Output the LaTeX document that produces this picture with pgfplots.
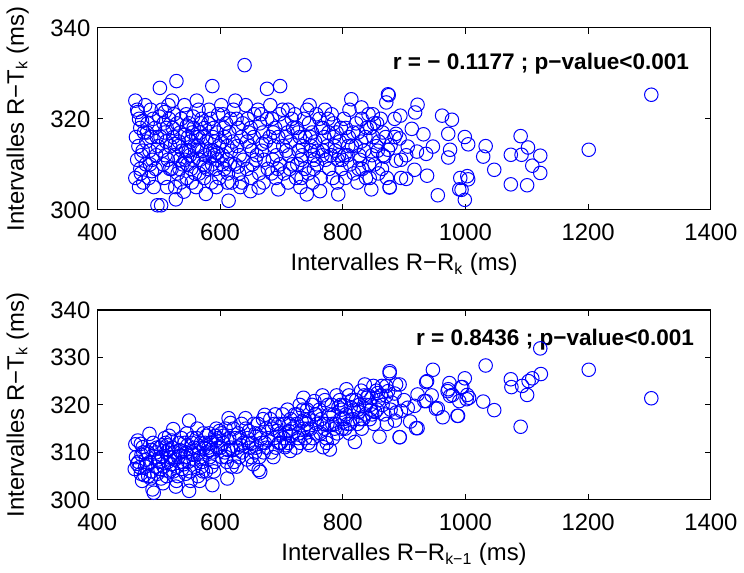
\documentclass[border=0pt]{standalone}
\usepackage{pgfplots}
\pgfplotsset{compat=1.18}
\usepackage{fontspec}
\setmainfont{Liberation Sans}
\definecolor{mblue}{RGB}{0,0,255}
\begin{document}
\begin{tikzpicture}
\pgfplotsset{
  mstyle/.style={
    scale only axis, width=308.5pt,
    xmin=400, xmax=1400, xtick={400,600,...,1400},
    tick align=inside, major tick length=3pt,
    axis line style={line width=0.6pt}, every tick/.style={line width=0.5pt, black},
    tick label style={font=\fontsize{12}{14}\selectfont},
    label style={font=\fontsize{12}{14}\selectfont},
    /pgf/number format/assume math mode=true,
    /pgf/number format/1000 sep={},
    xticklabel style={yshift=-3.5pt},
    clip=false,
    xlabel style={yshift=0.5pt},
    ylabel style={yshift=4pt},
  },
  pts/.style={only marks, mark=o, mark size=3.4pt, color=mblue, mark options={line width=0.5pt}},
}
% ---------------- bottom ----------------
\begin{axis}[mstyle, at={(0,0)}, anchor=south west, height=95.5pt,
  ymin=300, ymax=340, ytick={300,310,...,340},
  xlabel={Intervalles R\textminus R\textsubscript{k\textminus1} (ms)},
  ylabel={Intervalles R\textminus T\textsubscript{k} (ms)}]
\addplot[pts] coordinates {
(462,311.7)(465,307.6)(469,306.9)(471,305.5)(471,311.8)(474,311.1)(476.7,305.2)(463,309)(467,308)(472,309.5)(478,307)(475,310)(461,306.5)(479,308.5)(466,312.5)(473,304)
(485,313.9)(490,302.2)(492,301.5)(482,310)(486,308)(489,306)(494,309)(497,311)(483,305)(488,310.5)(495,307)(499,308.5)(491,312)(487,304.5)(498,305.5)
(502,311)(505,309)(508,307)(510,313)(512,310)(515,308)(518,306)(504,304.5)(511,312)(516,310.5)(507,303.5)(519,309)(513,305)(501,308)(517,313.5)(506,311.5)
(523.7,314.9)(528,302.8)(522,311)(525,309)(530,307)(533,312)(536,310)(539,308)(524,306)(531,305)(537,313)(527,308.5)(534,310.5)(529,304)(521,312.5)(538,306.5)(526,310)
(549.6,316.7)(549.6,301.9)(542,312)(545,310)(548,308)(551,306)(555,313)(558,311)(543,309)(552,304)(557,308.5)(546,314)(553,310)(559,307)(544,305.5)(554,312)(547,311.5)
(562,313)(565,311)(568,309)(570,307)(573,314)(576,312)(579,310)(564,305)(571,308)(577,306)(563,315)(574,311)(567,304)(578,313.5)(569,312)
(587.5,303.1)(582,314)(585,312)(588,310)(591,308)(594,315)(597,313)(583,309)(590,306)(596,311)(599,314.5)(586,307)(593,312.5)(581,311)
(614,317.2)(617,316.2)(612,304.5)(602,314)(605,312)(608,310)(611,308)(615,313)(618,311)(603,309)(609,315)(619,307)(606,313.5)(613,310.5)
(622,315)(625,313)(628,311)(631,309)(635,316)(638,312)(623,308)(630,314)(636,310)(627,307)(633,313)
(641.5,317.2)(642,315)(645,313)(648,311)(651,309)(655,316)(658,314)(644,308.5)(652,312)(657,310)(647,314.5)(654,307.5)
(663,306.3)(665.6,305.9)(672.8,317.9)(662,316)(665,314)(668,312)(671,310)(675,315)(678,313)(664,309)(670,317)(676,311)(667,313)
(682,317)(685,315)(688,313)(691,311)(695,316)(698,314)(684,310)(690,318)(696,312)(687,309)(693,314.5)
(706,311.1)(714.4,310.3)(702,318)(705,316)(708,314)(711,312)(715,317)(718,315)(704,313)(710,319)(716,313.5)(707,311.5)(713,316)
(722,318)(725,316)(728,314)(731,312)(735,319)(738,317)(724,311)(730,320)(736,315)(727,313)(733,316.5)(739,313)(736,321.5)
(753.8,320.8)(742,319)(745,317)(748,315)(751,313)(755,318)(758,316)(744,312)(750,320)(756,314)(747,311.5)(741,316)
(768,311.1)(779,310.6)(762,319)(765,317)(770,315)(773,313)(776,320)(778,318)(764,314)(771,321)(775,316)(767,322)(774,312)
(782,320)(785,318)(788,316)(791,314)(795,321)(798,319)(784,313)(790,322)(796,317)(787,315)(793,319.5)(799,315)
(806,323.3)(819.8,312.2)(802,320)(805,318)(808,316)(811,314)(815,321)(818,319)(804,315)(810,322)(816,317)(813,319.5)(801,317)
(836,324.3)(822,321)(825,319)(828,317)(831,315)(835,322)(838,320)(824,316)(830,323)(837,318)(827,320)(833,317)(839,321.5)
(860,313.3)(842,322)(845,320)(848,318)(851,316)(855,323)(858,321)(844,317)(850,324)(856,319)(847,321.5)(853,318.5)
(876.5,326.7)(871,323.96)(876.5,327.1)(874,322.9)(871,321.9)(862,322)(865,320)(868,318)(872,316)(878,319)(864,324)
(887,324.3)(884.6,322.4)(892.7,324.3)(892.7,313.2)(885,316.7)(887,318.4)(895,318.75)(906,319.4)(917,319.8)(922,322.2)(933,320.8)(922,315.1)
(936,324.8)(947,327.4)(937.5,325)(936,320.8)(952,319.2)(963,317.4)(987,317.7)(955,319.3)(974,324.6)(972,323.3)(975,321.9)(971,322.9)(979,322.1)
(988,317.7)(999,325.6)(995,323.75)(1006,321.5)(1003,322.1)(1002,321.2)(993,323.75)(990,320.8)(919.7,315.1)(893,313.2)
(1029,320.7)(1033,328.3)(1047,318.9)(1074,325.4)(1075,323.75)(1092.5,324)(1090,315.4)(1100.6,322.1)(1103,325)(1109,325.6)(1122,331.9)(1123,326.5)
(1201,327.4)(1303,321.4)(880,320.5)(900,321)(910,316.5)(945,322)
(481,307.5)(496,310)(503,306.5)(514,311.5)(520,307.5)(532,309)(541,307.5)(556,309.5)(566,310)(572,306)(584,310.5)(592,313.5)(601,311)(610,309)
(621,310.5)(634,311.5)(646,312)(659,311)(673,312)(689,316)(699,312)(712,314.5)(726,318)(743,315)(757,318)(769,316)(783,316)(797,320)(812,316)(826,318.5)(846,319)(857,322.5)
};
\node[anchor=east, font=\fontsize{11.35}{13}\selectfont\bfseries] at (axis cs:1384,333.7) {r = 0.8436 ; p\textminus value<0.001};
\end{axis}
% ---------------- top ----------------
\begin{axis}[mstyle, at={(0,145.85pt)}, anchor=south west, height=91.5pt,
  ymin=300, ymax=340, ytick={300,320,340},
  xlabel={Intervalles R\textminus R\textsubscript{k} (ms)},
  ylabel={Intervalles R\textminus T\textsubscript{k} (ms)}]
\addplot[pts] coordinates {
(462,324)(465,322)(468,320)(470,318)(463,316)(467,314)(472,312)(465,311)(470,309)(462,307)(475,306)(468,305)(478,323)(476,317)(480,315)(474,313)(479,310)(466,321.5)(471,308)
(482,319)(488,316)(485,313)(490,311)(495,309)(484,307)(492,305)(498,301)(487,322)(494,318)(499,314)(491,320)(486,310)(496,312)
(502,326.8)(504,301)(505,322)(508,319)(510,317)(512,315)(506,313)(515,311)(518,309)(509,307)(514,305)(517,320)(511,312)(503,316)(519,314)(507,310)(513,318)
(529,328.3)(528,302.3)(522,324)(525,321)(530,319)(535,317)(524,316)(532,314)(538,313)(526,312)(534,311)(539,310)(521,309)(531,308)(536,306)(527,305)(533,315)(537,320)(523,318)
(542,323)(545,321)(550,319)(555,317)(548,316)(552,315)(558,314)(544,313)(551,312)(556,311)(547,310)(553,309)(559,308)(546,307)(554,306)(541,304)(557,318)(549,313)(543,311)
(562,324)(565,322)(570,320)(575,318)(568,317)(572,316)(578,315)(564,314)(571,313)(576,312)(567,311)(573,310)(579,309)(566,308)(574,307)(561,305)(577,303.5)(569,319)(563,313)
(587.5,327.2)(582,322)(585,320)(590,318)(595,317)(588,316)(592,315)(598,314)(584,313)(591,312)(596,311)(587,310)(593,309)(599,307)(586,306)(594,305)(581,319)(597,321)
(614,302)(602,323)(605,321)(610,319)(615,317)(608,316)(612,314)(618,313)(604,312)(611,311)(616,310)(607,309)(613,308)(619,306)(606,318)(617,320)
(640,331.8)(622,322)(625,324)(630,318)(635,316)(628,314)(632,312)(638,311)(624,310)(631,308)(636,306)(627,320)(633,305)
(649.6,304.1)(642,323)(645,320)(650,318)(655,316)(648,314)(652,313)(658,311)(644,309)(651,307)(656,321)(647,317)
(663,304.9)(676.6,326.6)(662,322)(665,319)(670,317)(675,315)(668,313)(672,311)(678,309)(664,308)(671,306)(677,320)(667,321)
(698,327.2)(695,304.5)(682,323)(685,320)(690,318)(695,316)(688,314)(692,312)(698,310)(684,308)(691,307)(697,321)(687,317)
(702,322)(705,319)(710,317)(715,315)(708,313)(712,312)(718,310)(704,308)(711,306)(717,320)(707,316)(714,309)
(722,321)(725,318)(730,316)(735,314)(728,313)(732,311)(738,309)(724,307)(731,305)(737,320)(727,317)(734,312)
(741.4,303.4)(742,322)(745,319)(750,317)(755,315)(748,313)(752,312)(758,310)(744,308)(751,306)(757,321)(747,316)(754,311)(749,314)
(763,304.1)(762,320)(765,318)(770,316)(775,314)(768,313)(772,311)(778,309)(764,307)(771,322)(777,317)(767,312)
(792.7,303.4)(782,321)(785,319)(790,317)(795,315)(788,313)(792,311)(798,309)(784,307)(791,306)(797,318)(787,314)(794,312)
(814,324.3)(802,320)(805,318)(810,316)(815,314)(808,312)(812,310)(818,308)(804,307)(811,322)(817,317)
(830.6,322.5)(822,319)(825,317)(830,315)(835,313)(828,311)(832,309)(838,307)(824,306)(831,320)(837,316)(827,312)
(846.6,304.5)(842,321)(845,318)(850,316)(855,314)(848,312)(852,310)(858,308)(844,307)(851,319)(857,313)
(876.5,305)(873.8,325.4)(875,325.2)(871,323.6)(868,311.7)(873.8,313.2)(878,314.2)(862,320)(865,317)(870,316)(864,309)(872,307)(866,312)
(884.6,320)(894,320.7)(912.6,317.8)(918,321.4)(922,323.1)(931.6,316.6)(962,320.7)(978,319.8)(972,316.7)(999,316)(1004.5,314.4)(1033,314)(1029,311.7)
(1047,308.8)(975,313.2)(972,311.5)(947,313.9)(936,312.3)(937.5,307.5)(955,303.2)(991.6,307)(1003,307.4)(1004.5,306.7)(990,304.5)(993.7,304.4)(999,302.2)
(876.5,304.9)(895,307)(903.5,306.8)(917,308.8)(921,312.8)(906,313.9)(884.6,316)(887,316.7)(892.7,315.7)(903.5,312)(895,311)(887,310.8)
(1090,316.2)(1091.5,312.1)(1074,312.1)(1074,305.6)(1100.6,305.4)(1102,313.7)(1109,309.7)(1122,311.9)(1122,308.1)(1201,313.2)(1303,325.3)
(473,319.5)(489,308.5)(501,320.5)(516,323)(527,314.5)(543,316.5)(556,320.5)(561,316)(575,309.5)(583,311.5)(595,312.5)(603,315)(612,306)(621,315)
(637,319)(653,310)(669,314.5)(686,311)(703,314)(719,318)(733,307)(746,323)(759,313)(776,320)(786,316)(799,311)(809,314)(821,314)(839,318)(849,321)(859,315)
(481,317)(497,316)(510,321.5)(534,309)(546,318.5)(565,316)(589,313)(604,310)(629,309.5)(644,315)(660,312)(681,316)(694,309)(711,322)(726,310)
(739,316)(753,309)(768,318)(781,312)(803,312)(826,309)(843,310)(856,319)
};
\node[anchor=east, font=\fontsize{11.35}{13}\selectfont\bfseries] at (axis cs:1376,332.2) {r = \textminus{} 0.1177 ; p\textminus value<0.001};
\end{axis}
\end{tikzpicture}
\end{document}
